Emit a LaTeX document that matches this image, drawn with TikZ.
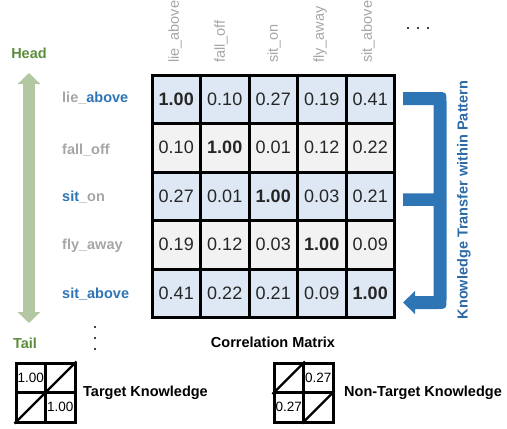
\documentclass[tikz,border=0pt]{standalone}
\usepackage{fontspec}
\setmainfont{Liberation Sans}
\usetikzlibrary{arrows.meta,calc}
\definecolor{cellblue}{HTML}{DDE8F4}
\definecolor{cellgray}{HTML}{F2F2F2}
\definecolor{labgray}{HTML}{A6A6A6}
\definecolor{labblue}{HTML}{2E75B6}
\definecolor{flowblue}{HTML}{2E75B6}
\definecolor{textblue}{HTML}{2D6AA8}
\definecolor{headgreen}{HTML}{5B8E3C}
\definecolor{shaftgreen}{HTML}{B3C8A2}
\begin{document}
\begin{tikzpicture}[x=1pt,y=-1pt,
  cell/.style={draw=black, line width=3pt, minimum size=48.5pt, inner sep=0pt,
    font=\fontsize{18}{20}\selectfont, text=black!85},
  rowlab/.style={anchor=west, inner sep=0pt, text=labgray,
    font=\fontsize{14.5}{17}\selectfont\bfseries},
  collab/.style={rotate=90, anchor=west, inner sep=0pt, text=labgray,
    font=\fontsize{14.5}{17}\selectfont},
  caption/.style={inner sep=0pt, font=\fontsize{14.5}{17}\selectfont\bfseries},
  mini/.style={draw=black, line width=3pt, minimum size=29.5pt, inner sep=0pt,
    font=\fontsize{13.5}{15}\selectfont},
  dotmark/.style={fill=black, circle, inner sep=0pt, minimum size=2.4pt},
  hi/.style={text=labblue},
]
\useasboundingbox (0,0) rectangle (507,429);

% correlation matrix
\foreach \r/\fc/\a/\b/\c/\d/\e in {
  1/cellblue/\textbf{1.00}/0.10/0.27/0.19/0.41,
  2/cellgray/0.10/\textbf{1.00}/0.01/0.12/0.22,
  3/cellblue/0.27/0.01/\textbf{1.00}/0.03/0.21,
  4/cellgray/0.19/0.12/0.03/\textbf{1.00}/0.09,
  5/cellblue/0.41/0.22/0.21/0.09/\textbf{1.00}}{
  \node[cell, fill=\fc] (m\r1) at ({152+48.5*0.5},{75+48.5*(\r-0.5)}) {\a};
  \node[cell, fill=\fc] (m\r2) at ({152+48.5*1.5},{75+48.5*(\r-0.5)}) {\b};
  \node[cell, fill=\fc] (m\r3) at ({152+48.5*2.5},{75+48.5*(\r-0.5)}) {\c};
  \node[cell, fill=\fc] (m\r4) at ({152+48.5*3.5},{75+48.5*(\r-0.5)}) {\d};
  \node[cell, fill=\fc] (m\r5) at ({152+48.5*4.5},{75+48.5*(\r-0.5)}) {\e};
}

% row labels
\node[rowlab] (r1) at (62,98) {lie\_\textcolor{labblue}{above}};
\node[rowlab] (r2) at (62,150) {fall\_off};
\node[rowlab] (r3) at (62,197) {\textcolor{labblue}{sit}\_on};
\node[rowlab] (r4) at (62,246) {fly\_away};
\node[rowlab, hi] (r5) at (62,294) {sit\_above};

% column labels
\node[collab] (c1) at (175,63) {lie\_above};
\node[collab] (c2) at (221,63) {fall\_off};
\node[collab] (c3) at (274,63) {sit\_on};
\node[collab] (c4) at (320,63) {fly\_away};
\node[collab] (c5) at (368,63) {sit\_above};

% continuation dots
\node[dotmark] (dr1) at (408,28) {};
\node[dotmark] (dr2) at (418,28) {};
\node[dotmark] (dr3) at (428,28) {};
\node[dotmark] (dd1) at (95,327) {};
\node[dotmark] (dd2) at (95,338) {};
\node[dotmark] (dd3) at (95,349) {};

% head / tail axis
\node[caption, text=headgreen] (head) at (29,53) {Head};
\node[caption, text=headgreen] (tail) at (25,343) {Tail};
\coordinate (axtop) at (29,73);
\coordinate (axbot) at (29,323);
\draw[draw=shaftgreen, line width=12pt,
  {Triangle[width=22pt,length=11pt]}-{Triangle[width=22pt,length=11pt]}]
  (axtop) -- (axbot);

% knowledge transfer bracket, filled as one outline:
% arms from rows 1 and 3 join a bar that returns to row 5 as an arrow
\coordinate (ftop) at (403,92);
\coordinate (fmid) at (403,193.25);
\coordinate (fbot) at (403,302.5);
\fill[flowblue]
  (ftop) -- (437,92) .. controls (446.5,92) .. (446.5,101.5)
  -- (446.5,299.5) .. controls (446.5,309) .. (437,309)
  -- (415,309) -- (415,314) -- (fbot) -- (415,291) -- (415,296)
  -- (433.5,296) -- (433.5,205.75) -- (403,205.75) -- (fmid)
  -- (433.5,193.25) -- (433.5,105) -- (403,105) -- cycle;
\node[caption, rotate=90, text=textblue] (kt) at (464,200) {Knowledge Transfer within Pattern};

\node[caption] (cm) at (273,342) {Correlation Matrix};

% legend: target knowledge
\node[mini] (t11) at (30.75,377.75) {1.00};
\node[mini] (t12) at (60.25,377.75) {};
\node[mini] (t21) at (30.75,407.25) {};
\node[mini] (t22) at (60.25,407.25) {1.00};
\draw[line width=2.2pt] (t21.south west) -- (t12.north east);
\node[caption, anchor=west] (tk) at (83,393) {Target Knowledge};

% legend: non-target knowledge
\node[mini] (n11) at (288.75,377.75) {};
\node[mini] (n12) at (318.25,377.75) {0.27};
\node[mini] (n21) at (288.75,407.25) {0.27};
\node[mini] (n22) at (318.25,407.25) {};
\draw[line width=2.2pt] (n11.south west) -- (n11.north east);
\draw[line width=2.2pt] (n22.south west) -- (n22.north east);
\node[caption, anchor=west] (nk) at (344,393) {Non-Target Knowledge};
\end{tikzpicture}
\end{document}
